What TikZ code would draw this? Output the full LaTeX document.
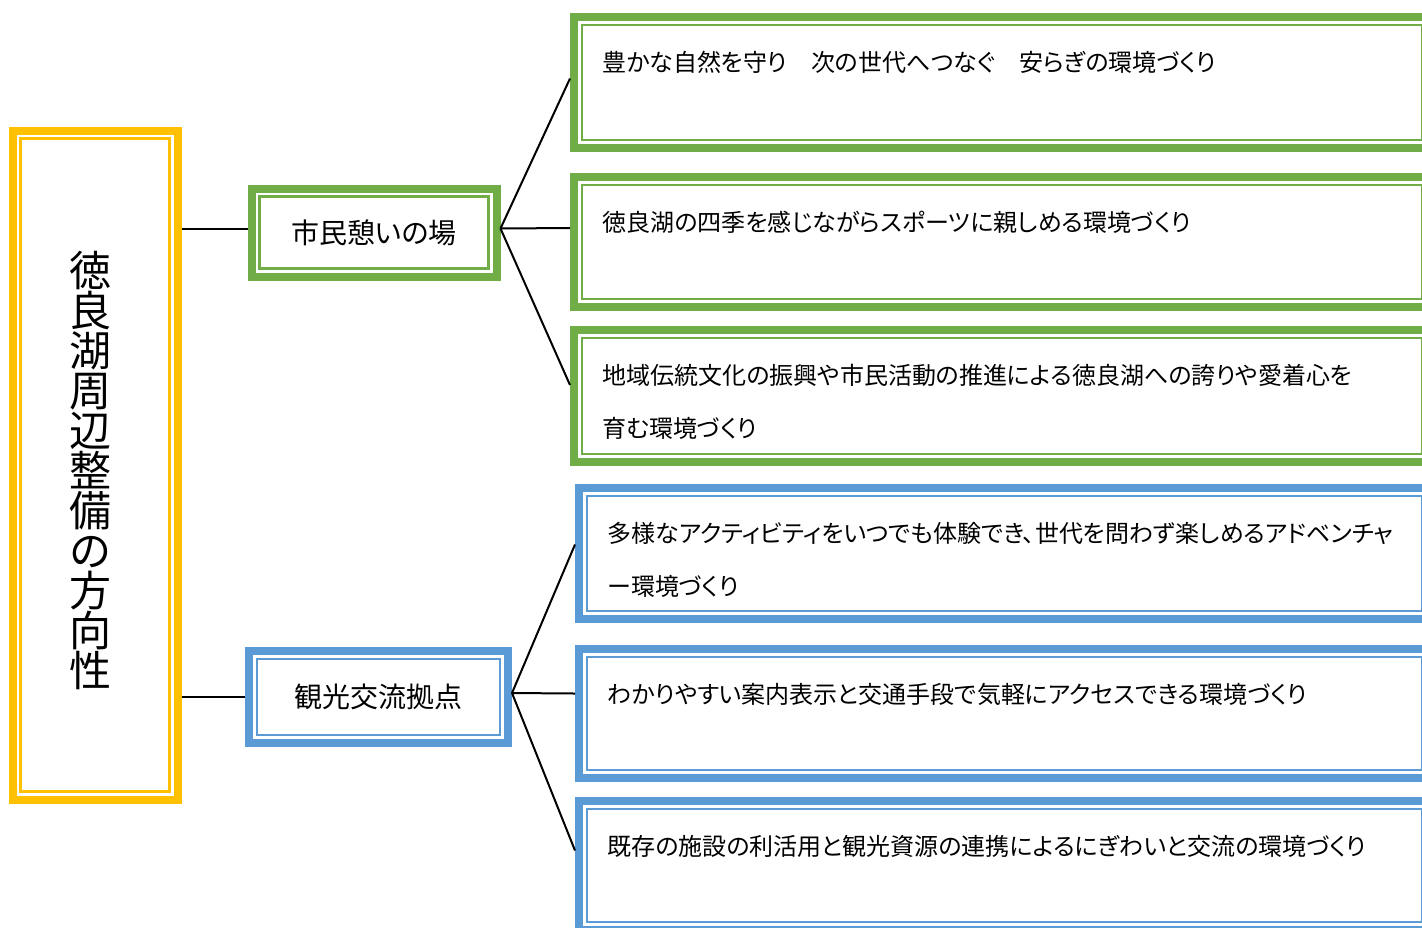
\documentclass[tikz,border=0pt]{standalone}
\usepackage{fontspec}
\setmainfont{Noto Sans CJK JP}[CharacterWidth=AlternateProportional]

\definecolor{dirgold}{HTML}{FFC000}
\definecolor{civgreen}{HTML}{70AD47}
\definecolor{tourblue}{HTML}{5B9BD5}

\def\xunit{0.5pt}
\def\yunit{-0.5pt}

\begin{document}
\begin{tikzpicture}[x=\xunit, y=\yunit,
  box/.style={draw, line width=4pt, inner sep=0pt},
  rim/.style={line width=1.25pt},
  link/.style={line width=1pt},
  note/.style={font=\fontsize{12pt}{26.5pt}\selectfont, align=left, inner sep=0pt, anchor=north west},
  head/.style={font=\fontsize{14pt}{16pt}\selectfont}]

\useasboundingbox (0,0) rectangle (1422,927);
\clip (0,0) rectangle (1422,927);

% ---- direction: left column ----
\node[box, draw=dirgold, minimum width=82.5pt, minimum height=334.5pt] (dir) at (95,465) {};
\node[align=center, inner sep=0pt, font=\fontsize{21pt}{20pt}\selectfont] (dirT)
  at ([shift={(-2.5pt,-3pt)}]dir.center) {徳\\良\\湖\\周\\辺\\整\\備\\の\\方\\向\\性};

% ---- two fields ----
\node[box, head, draw=civgreen, minimum width=122.5pt, minimum height=44pt] (civ) at (374,232.5) {市民憩いの場};
\node[box, head, draw=tourblue, minimum width=129.5pt, minimum height=46pt] (tour) at (378.5,697) {観光交流拠点};

% ---- green goals ----
\node[box, draw=civgreen, minimum width=428pt, minimum height=65.5pt] (nature) at (1002,82.5) {};
\node[box, draw=civgreen, minimum width=428pt, minimum height=65pt] (sport) at (1002,242) {};
\node[box, draw=civgreen, minimum width=428pt, minimum height=66pt] (pride) at (1002,396) {};

% ---- blue goals ----
\node[box, draw=tourblue, minimum width=425.5pt, minimum height=65.5pt] (adventure) at (1004.5,553.5) {};
\node[box, draw=tourblue, minimum width=425.5pt, minimum height=64.5pt] (access) at (1004.5,713.5) {};
\node[box, draw=tourblue, minimum width=425.5pt, minimum height=64.5pt] (bustle) at (1004.5,865.5) {};

% ---- thin inner rims ----
\foreach \n/\c in {dir/dirgold, civ/civgreen, tour/tourblue, nature/civgreen, sport/civgreen,
    pride/civgreen, adventure/tourblue, access/tourblue, bustle/tourblue}
  \draw[rim, \c] ([shift={(6pt,-6pt)}]\n.north west) rectangle ([shift={(-6pt,6pt)}]\n.south east);

% ---- goal texts ----
\node[note] (natureT) at ([xshift=16pt, yshift=-19pt]nature.north west) {豊かな自然を守り　次の世代へつなぐ　安らぎの環境づくり};
\node[note] (sportT) at ([xshift=16pt, yshift=-19pt]sport.north west) {徳良湖の四季を感じながらスポーツに親しめる環境づくり};
\node[note] (prideT) at ([xshift=16pt, yshift=-19pt]pride.north west) {地域伝統文化の振興や市民活動の推進による徳良湖への誇りや愛着心を\\育む環境づくり};
\node[note] (adventureT) at ([xshift=16pt, yshift=-19pt]adventure.north west) {多様なアクティビティをいつでも体験でき、世代を問わず楽しめるアドベンチャ\\ー環境づくり};
\node[note] (accessT) at ([xshift=16pt, yshift=-19pt]access.north west) {わかりやすい案内表示と交通手段で気軽にアクセスできる環境づくり};
\node[note] (bustleT) at ([xshift=16pt, yshift=-19pt]bustle.north west) {既存の施設の利活用と観光資源の連携によるにぎわいと交流の環境づくり};

% ---- links ----
\coordinate (civIn) at ([yshift=2pt]civ.west);
\coordinate (civOut) at ([yshift=2pt]civ.east);
\coordinate (tourOut) at ([yshift=2pt]tour.east);
\draw[link] (dir.east |- civIn) -- (civIn);
\draw[link] (dir.east |- tour.west) -- (tour.west);
\foreach \t/\d in {nature/2, sport/7, pride/5.5}
  \draw[link] (civOut) -- ([yshift=\d pt]\t.west);
\foreach \t/\d in {adventure/4.5, access/10, bustle/7.5}
  \draw[link] (tourOut) -- ([yshift=\d pt]\t.west);

\end{tikzpicture}
\end{document}
